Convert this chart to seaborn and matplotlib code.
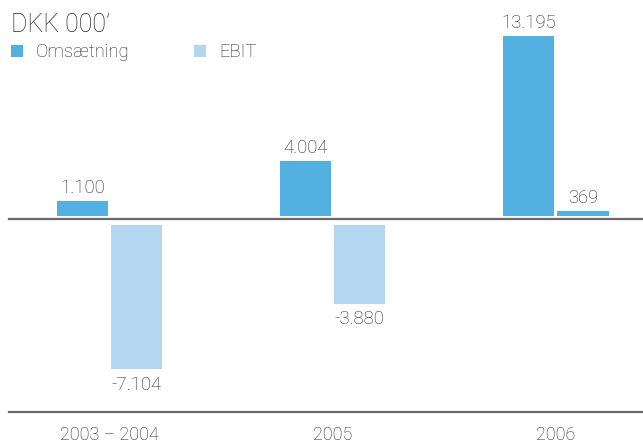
import matplotlib
matplotlib.use("Agg")
import matplotlib.pyplot as plt
from matplotlib.patches import Rectangle
import pandas as pd
import seaborn as sns

# Data (DKK thousands)
periods = ["2003 – 2004", "2005", "2006"]
omsaetning = [1100, 4004, 13195]
ebit = [-7104, -3880, 369]
series_names = ["Omsætning", "EBIT"]

DARK = "#55b0e2"
LIGHT = "#b4d6f0"
TEXT = "#262626"
RULE = "#6a6a6a"

df = pd.DataFrame({
    "period": periods * 2,
    "value": omsaetning + ebit,
    "series": [series_names[0]] * len(periods) + [series_names[1]] * len(periods),
})

sns.set_theme(style="white")
plt.rcParams["font.family"] = ["Roboto", "DejaVu Sans"]
plt.rcParams["font.weight"] = "light"

LABEL_SIZE = 13.3

W, H = 643, 444
fig = plt.figure(figsize=(W / 100, H / 100), dpi=100)


def fig_box(left_px, top_px, right_px, bottom_px):
    return [left_px / W, 1 - bottom_px / H, (right_px - left_px) / W, (bottom_px - top_px) / H]


# positive values above the rule, negative values below it (separate scales)
ax_pos = fig.add_axes(fig_box(9, 20, W, 216))
ax_neg = fig.add_axes(fig_box(9, 225, W, 412))

pos_units_per_px = 13195 / 180.0
neg_units_per_px = 7104 / 144.0

for ax in (ax_pos, ax_neg):
    sns.barplot(data=df, x="period", y="value", hue="series", ax=ax,
                width=0.487, gap=0.05, palette=[DARK, LIGHT],
                legend=False, saturation=1, errorbar=None)
    for p in ax.patches:
        p.set_facecolor(DARK if p.get_height() >= 0 else LIGHT)
        p.set_edgecolor("none")
    ax.set_xlim(-0.4507, 2.392)
    ax.set_facecolor("none")
    ax.set_xlabel("")
    ax.set_ylabel("")
    ax.set_yticks([])
    for s in ("left", "right", "top"):
        ax.spines[s].set_visible(False)
    ax.spines["bottom"].set_color(RULE)
    ax.spines["bottom"].set_linewidth(1.6)

ax_pos.set_ylim(0, 196 * pos_units_per_px)
ax_neg.set_ylim(-187 * neg_units_per_px, 0)

ax_pos.spines["bottom"].set_position(("outward", 2.2))
ax_pos.set_xticks([])
ax_neg.set_xticks(range(len(periods)))
ax_neg.set_xticklabels(periods, fontsize=13, color=TEXT)
ax_neg.tick_params(axis="x", length=0, pad=10.0)


def fmt(v):
    return f"{v:,}".replace(",", ".")


for p in ax_pos.patches:
    h = p.get_height()
    if h > 0:
        ax_pos.annotate(fmt(int(round(h))), (p.get_x() + p.get_width() / 2, h),
                        xytext=(0, 5.8), textcoords="offset points",
                        ha="center", va="baseline", fontsize=LABEL_SIZE, color=TEXT,
                        annotation_clip=False)
for p in ax_neg.patches:
    h = p.get_height()
    if h < 0:
        ax_neg.annotate(fmt(int(round(h))), (p.get_x() + p.get_width() / 2, h),
                        xytext=(0, -15.0), textcoords="offset points",
                        ha="center", va="baseline", fontsize=LABEL_SIZE, color=TEXT,
                        annotation_clip=False)

# heading and legend
fig.text(11 / W, 1 - 32 / H, "DKK 000’", fontsize=18, color=TEXT,
         ha="left", va="baseline")
legend_items = [(11, series_names[0], DARK), (194, series_names[1], LIGHT)]
for x_px, label, col in legend_items:
    fig.add_artist(Rectangle((x_px / W, 1 - 57 / H), 12 / W, 12 / H,
                             transform=fig.transFigure, facecolor=col,
                             edgecolor="none"))
    fig.text((x_px + 25) / W, 1 - 57 / H, label, fontsize=LABEL_SIZE, color=TEXT,
             ha="left", va="baseline")

fig.savefig("out.png", dpi=100, facecolor="white")
